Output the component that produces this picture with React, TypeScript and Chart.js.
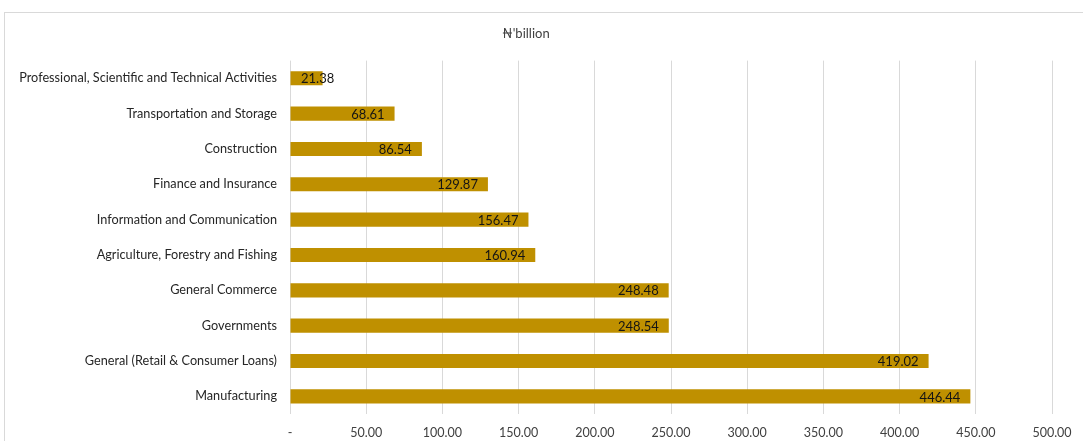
import React, { useEffect, useRef } from "react";
import { Chart, registerables } from "chart.js";

Chart.register(...registerables);

const categories: string[] = [
  "Professional, Scientific and Technical Activities",
  "Transportation and Storage",
  "Construction",
  "Finance and Insurance",
  "Information and Communication",
  "Agriculture, Forestry and Fishing",
  "General Commerce",
  "Governments",
  "General (Retail & Consumer Loans)",
  "Manufacturing",
];

const values: number[] = [21.38, 68.61, 86.54, 129.87, 156.47, 160.94, 248.48, 248.54, 419.02, 446.44];

const titleText = "₦'billion";
const xMin = 0;
const xMax = 500;
const xStep = 50;

const FONT = "Lato, 'Open Sans', sans-serif";

const borderPlugin = {
  id: "outerBorder",
  beforeDraw(chart: any) {
    const ctx = chart.ctx;
    ctx.save();
    ctx.strokeStyle = "#d9d9d9";
    ctx.lineWidth = 1;
    ctx.strokeRect(4.5, 12.5, 3000, 3000);
    ctx.restore();
  },
};

const labelPlugin = {
  id: "barLabels",
  afterDatasetsDraw(chart: any) {
    const ctx = chart.ctx;
    const meta = chart.getDatasetMeta(0);
    const xScale = chart.scales.x;
    const x0 = xScale.getPixelForValue(0);
    ctx.save();
    ctx.font = `13px ${FONT}`;
    ctx.fillStyle = "#141414";
    ctx.textBaseline = "middle";
    ctx.textAlign = "left";
    meta.data.forEach((bar: any, i: number) => {
      const text = values[i].toFixed(2);
      const w = ctx.measureText(text).width;
      let left = bar.x - 10 - w;
      if (left < x0 + 11) left = x0 + 11;
      ctx.fillText(text, left, bar.y + 1);
    });
    ctx.restore();
  },
};

export default function App() {
  const canvasRef = useRef<HTMLCanvasElement | null>(null);

  useEffect(() => {
    if (!canvasRef.current) return;
    const chart = new Chart(canvasRef.current, {
      type: "bar",
      data: {
        labels: categories,
        datasets: [
          {
            data: values,
            backgroundColor: "#bf9000",
            borderWidth: 0,
            barPercentage: 0.4,
            categoryPercentage: 1,
          },
        ],
      },
      options: {
        indexAxis: "y",
        responsive: true,
        maintainAspectRatio: false,
        animation: false,
        layout: { padding: { left: 0, right: 31, top: 0, bottom: 0 } },
        plugins: {
          legend: { display: false },
          tooltip: { enabled: false },
          title: {
            display: true,
            text: titleText,
            color: "#404040",
            font: { family: FONT, size: 13, weight: "normal" },
            padding: { top: 26, bottom: 19 },
          },
        },
        scales: {
          x: {
            min: xMin,
            max: xMax,
            border: { display: false },
            grid: { color: "#d9d9d9", drawTicks: false, lineWidth: 1 },
            ticks: {
              stepSize: xStep,
              padding: 11,
              color: "#404040",
              font: { family: FONT, size: 12.5 },
              maxRotation: 0,
              callback: (v: any) => (Number(v) === 0 ? "-" : Number(v).toFixed(2)),
            },
            afterFit: (scale: any) => {
              scale.height = 27;
            },
          },
          y: {
            border: { display: false },
            grid: { display: false, drawTicks: false },
            ticks: {
              padding: 13,
              color: "#262626",
              font: { family: FONT, size: 12.7 },
            },
            afterFit: (scale: any) => {
              scale.width = 290;
            },
          },
        },
      },
      plugins: [borderPlugin, labelPlugin],
    });
    return () => chart.destroy();
  }, []);

  return (
    <div style={{ position: "absolute", left: 0, top: 0, width: 1083, height: 441 }}>
      <canvas ref={canvasRef} />
    </div>
  );
}
